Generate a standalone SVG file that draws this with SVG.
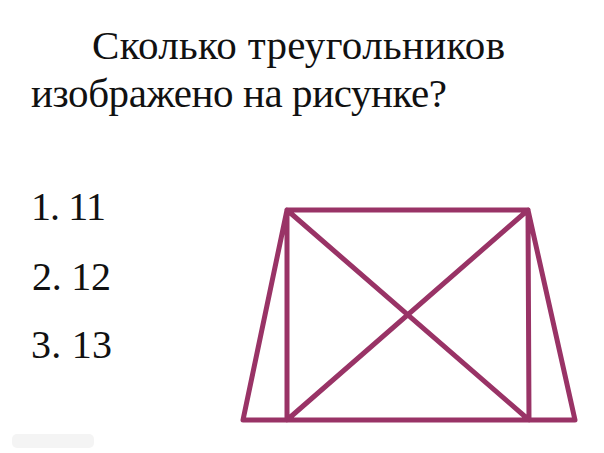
<svg xmlns="http://www.w3.org/2000/svg" width="604" height="453" viewBox="0 0 604 453">
<style>
.t{font-family:"Liberation Serif","Times New Roman",serif;fill:#111;}
.q{font-size:41px;}
.o{font-size:40px;}
.ln{stroke:#993366;stroke-width:5;stroke-linecap:round;fill:none;}
</style>
<rect width="604" height="453" fill="#fff"/>
<g id="question">
<text class="t q" x="92" y="59" textLength="413" lengthAdjust="spacing">Сколько треугольников</text>
<text class="t q" x="31" y="107" textLength="416" lengthAdjust="spacing">изображено на рисунке?</text>
</g>
<g id="options">
<text class="t o" x="31" y="220" textLength="75" lengthAdjust="spacing">1. 11</text>
<text class="t o" x="32" y="290" textLength="79" lengthAdjust="spacing">2. 12</text>
<text class="t o" x="31" y="358" textLength="81" lengthAdjust="spacing">3. 13</text>
</g>
<g id="figure">
<path class="ln" d="M243,420 L575,420 M287,210 L528,210 M287,210 L287,420 M528,210 L529,420 M287,210 L529,420 M528,210 L287,420 M243,420 L287,210 M575,420 L528,210"/>
</g>
<rect x="12" y="434" width="82" height="14" rx="5" fill="#f4f4f4"/>
</svg>
